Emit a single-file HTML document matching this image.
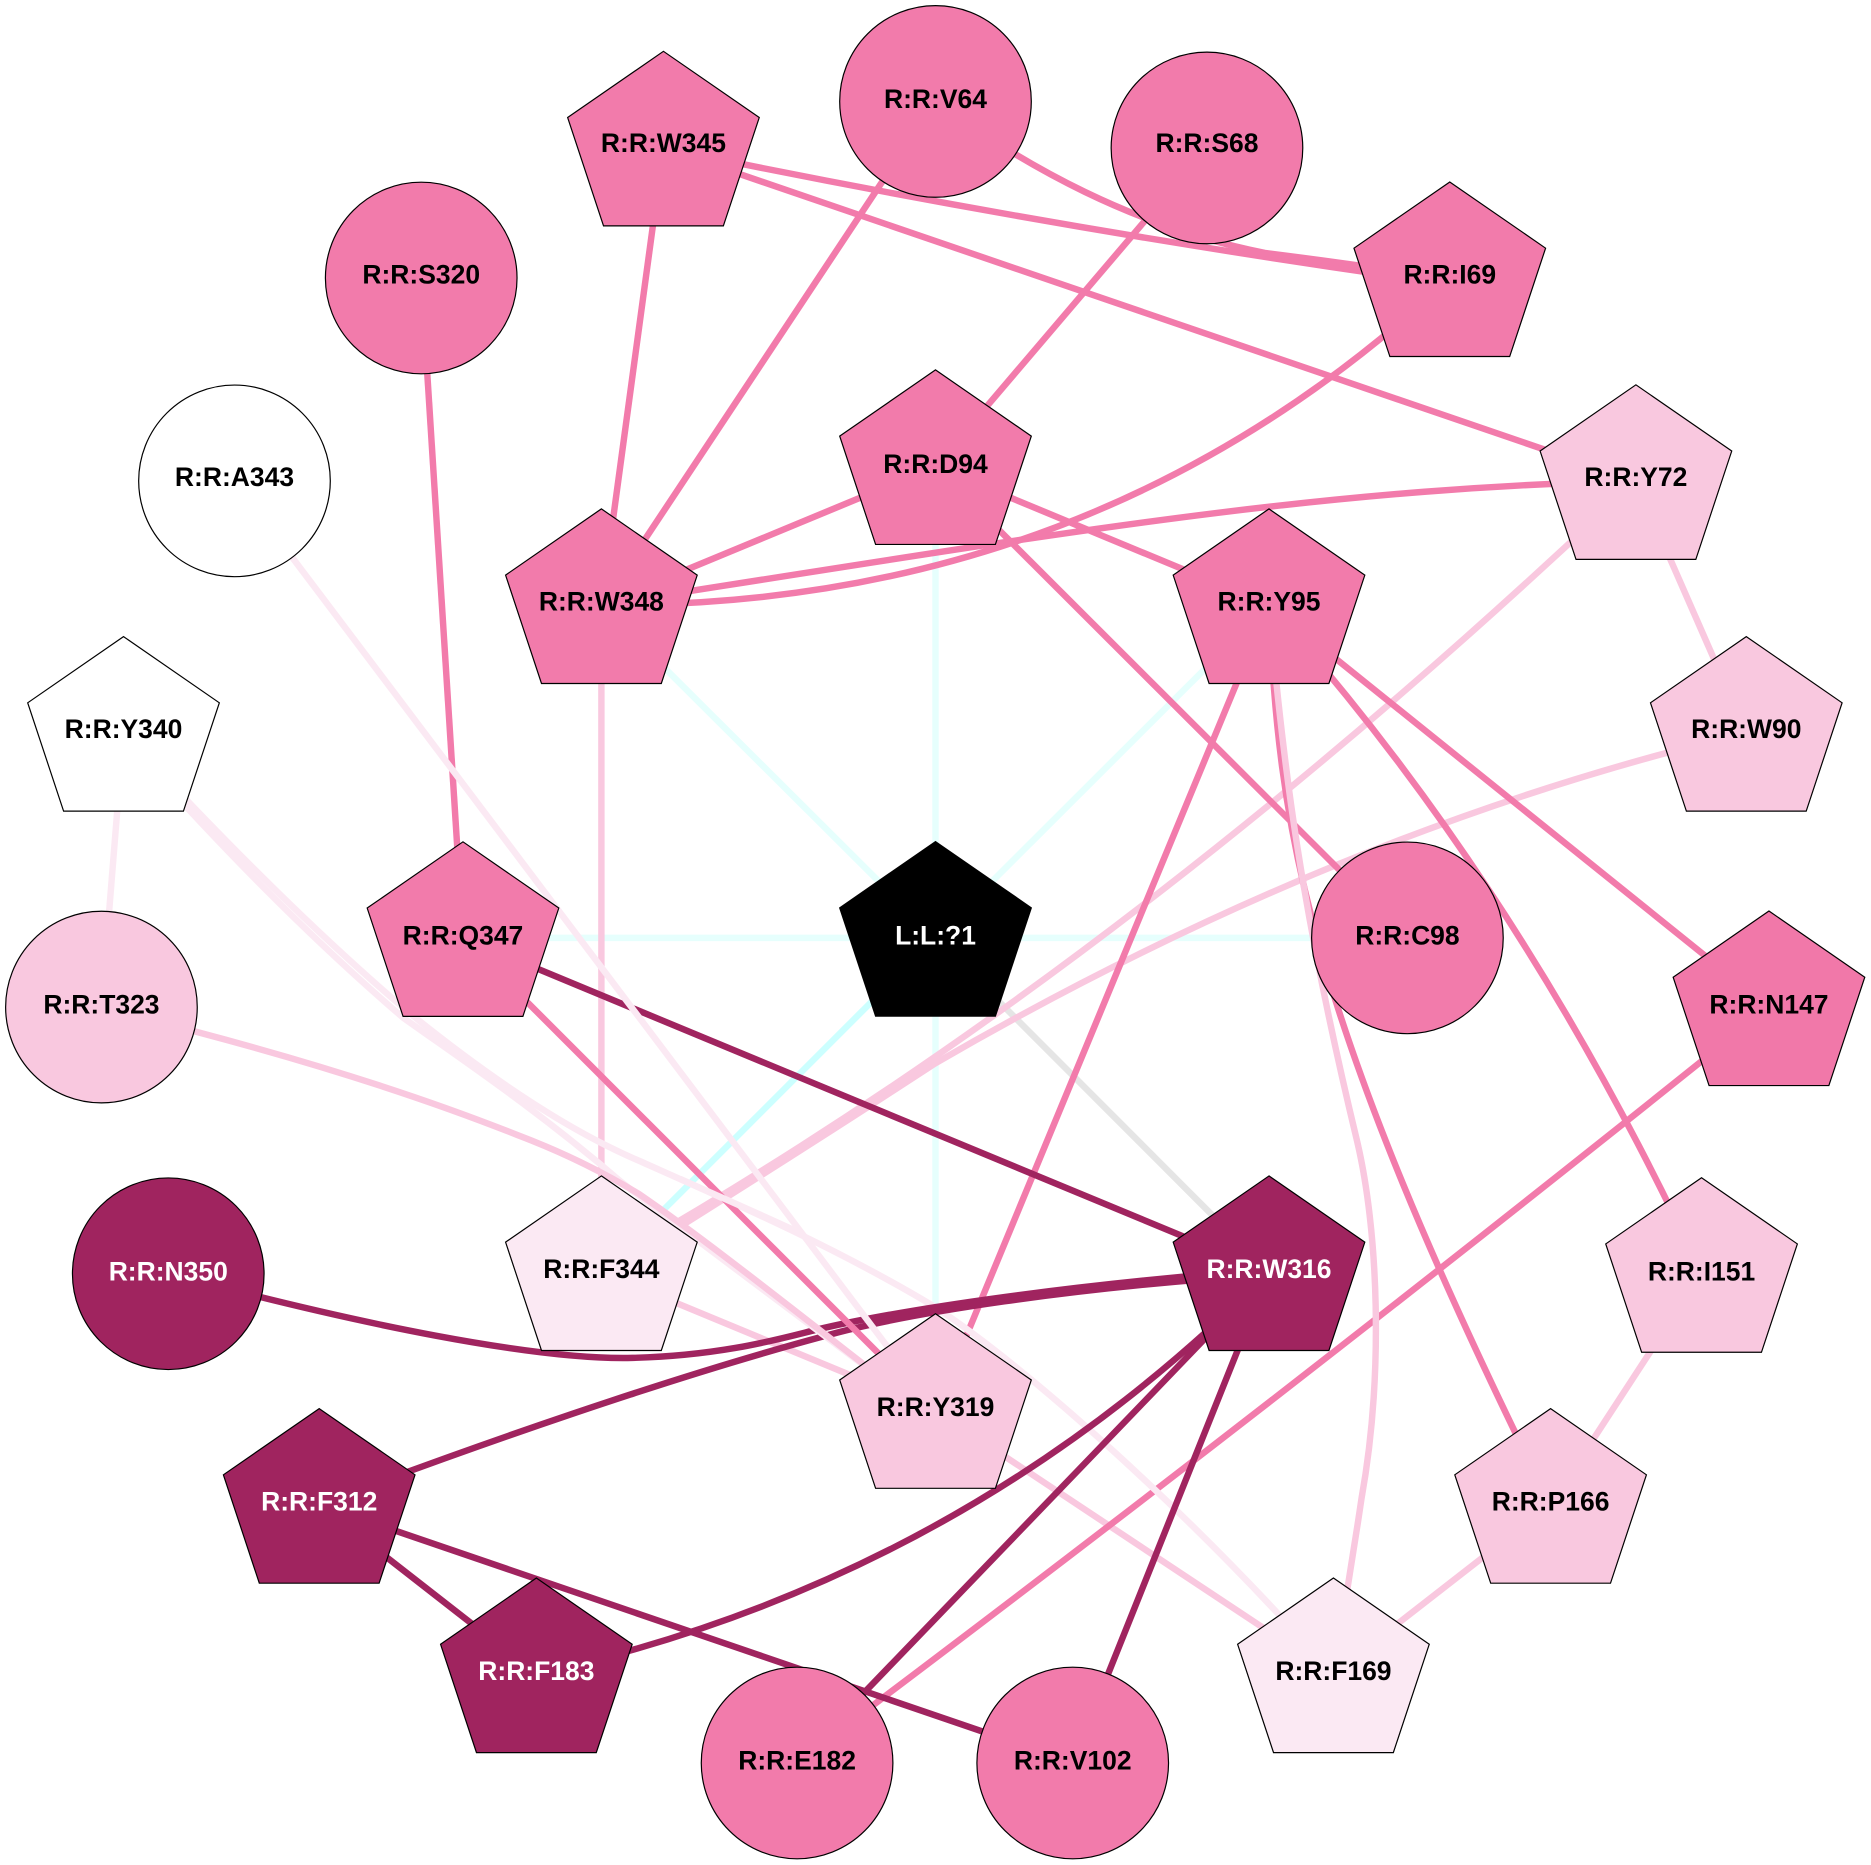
<!DOCTYPE html>
<html><head><meta charset="utf-8"><style>
html,body{margin:0;padding:0;background:#fff}
svg{display:block}
text{font-family:"Liberation Sans",Arial,sans-serif;font-weight:bold;font-size:22.2px;text-anchor:middle}
.e{fill:none;stroke-width:5.4}
.p{stroke:#f27bab}.d{stroke:#a0245f}.l{stroke:#f9c8df}.v{stroke:#fbe9f3}
.c1{stroke:#e6fffd}.c2{stroke:#ccffff}.g{stroke:#e5e5e5}
.n{stroke:#000;stroke-width:1}
</style></head><body>
<svg xmlns="http://www.w3.org/2000/svg" width="1871" height="1865" viewBox="0 0 1568 1563">
<rect width="1568" height="1563" fill="#fff"/>
<g class="edges">
<path class="e c1" d="M784 786L504 507"/>
<path class="e c1" d="M784 786L1063.5 507"/>
<path class="e c1" d="M784 786L784 391"/>
<path class="e c1" d="M784 786L784 1182"/>
<path class="e c1" d="M784 786L388 786"/>
<path class="e c1" d="M784 786L1179.5 786"/>
<path class="e c2" d="M784 786L504 1066"/>
<path class="e g" d="M784 786L1063.5 1066"/>
<path class="e v" d="M103.5 614L85 844"/>
<path class="e l" d="M1371 403L1463.5 614"/>
<path class="e l" d="M504 507L504 1066"/>
<path class="e l" d="M504 1066L784 1182"/>
<path class="e l" d="M784 1182L1117 1403"/>
<path class="e l" d="M1299.5 1261L1117 1403"/>
<path class="e l" d="M1426 1067L1299.5 1261"/>
<path class="e l" d="M1371 403Q930 822 502 1062"/>
<path class="e l" d="M1463.5 614Q1122 695 784 891Q660 972 506 1068"/>
<path class="e p" d="M556 124Q883 192 1215 238"/>
<path class="e p" d="M784 85C860 140 950 190 1060 212Q1140 222 1215 234"/>
<path class="e p" d="M556 124L1371 403"/>
<path class="e p" d="M556 124L504 507"/>
<path class="e p" d="M784 85L504 507"/>
<path class="e p" d="M1011.5 124L784 391"/>
<path class="e p" d="M1215 233Q920 510 504 507"/>
<path class="e p" d="M1371 403C1100 410 900 445 504 507"/>
<path class="e p" d="M784 391L504 507"/>
<path class="e p" d="M784 391L1063.5 507"/>
<path class="e p" d="M784 391L1179.5 786"/>
<path class="e p" d="M353 233L388 786"/>
<path class="e p" d="M1063.5 507L784 1182"/>
<path class="e p" d="M1063.5 507C1072 690 1090 840 1299.5 1261"/>
<path class="e p" d="M1063.5 507Q1275.5 743 1426 1067"/>
<path class="e p" d="M1063.5 507L1482.5 844"/>
<path class="e p" d="M1482.5 844Q1080 1168 668 1477"/>
<path class="e l" d="M1063.5 507C1075 640 1090 760 1137 955C1155 1030 1160 1150 1141 1256Q1130 1330 1117 1403"/>
<path class="e d" d="M388 786L1063.5 1066"/>
<path class="e v" d="M103.5 614Q235 757 342 848C400 895 470 945 536 973C610 1006 700 1045 783 1095C860 1145 1000 1270 1117 1403"/>
<path class="e d" d="M141 1067C300 1110 450 1140 530 1138C610 1136 660 1120 690 1113C760 1097 900 1076 1063.5 1064"/>
<path class="e d" d="M267.5 1261C400 1211 560 1155 690 1120C760 1100 900 1079 1063.5 1068"/>
<path class="e d" d="M1063.5 1066Q806.5 1325 449.5 1403"/>
<path class="e d" d="M1063.5 1066L668 1477"/>
<path class="e d" d="M1063.5 1066L899 1477"/>
<path class="e d" d="M267.5 1261L449.5 1403"/>
<path class="e d" d="M267.5 1261L899 1477"/>
<path class="e p" d="M388 786L784 1182"/>
<path class="e v" d="M570 988C610 1006 640 1019 670 1033"/>
<path class="e v" d="M103.5 618Q226 757 338 853C390 890 450 930 520 990C570 1030 680 1110 784 1190"/>
<path class="e l" d="M85 844L165.5 865C260 890 350 918 433 951C470 965 505 982 536 1001C600 1045 680 1110 784 1190"/>
<path class="e v" d="M196.5 403L784 1182"/>
</g>
<g class="nodes">
<circle class="n" cx="784" cy="85" r="80.3" fill="#f27bab"/><text x="784" y="90.5">R:R:V64</text>
<polygon class="n" transform="translate(556,124)" points="0,-81 80.3,-25.5 50.2,65.3 -50.2,65.3 -80.3,-25.5" fill="#f27bab"/><text x="556" y="127.5">R:R:W345</text>
<circle class="n" cx="1011.5" cy="124" r="80.3" fill="#f27bab"/><text x="1011.5" y="127.5">R:R:S68</text>
<circle class="n" cx="353" cy="233" r="80.3" fill="#f27bab"/><text x="353" y="237.5">R:R:S320</text>
<polygon class="n" transform="translate(1215,233.5)" points="0,-81 80.3,-25.5 50.2,65.3 -50.2,65.3 -80.3,-25.5" fill="#f27bab"/><text x="1215" y="237.5">R:R:I69</text>
<circle class="n" cx="196.5" cy="403" r="80.3" fill="#fff"/><text x="196.5" y="407.5">R:R:A343</text>
<polygon class="n" transform="translate(1371,403.5)" points="0,-81 80.3,-25.5 50.2,65.3 -50.2,65.3 -80.3,-25.5" fill="#f9c8df"/><text x="1371" y="407.5">R:R:Y72</text>
<polygon class="n" transform="translate(784,391)" points="0,-81 80.3,-25.5 50.2,65.3 -50.2,65.3 -80.3,-25.5" fill="#f27bab"/><text x="784" y="396.5">R:R:D94</text>
<polygon class="n" transform="translate(504,507.5)" points="0,-81 80.3,-25.5 50.2,65.3 -50.2,65.3 -80.3,-25.5" fill="#f27bab"/><text x="504" y="511.5">R:R:W348</text>
<polygon class="n" transform="translate(1063.5,507.5)" points="0,-81 80.3,-25.5 50.2,65.3 -50.2,65.3 -80.3,-25.5" fill="#f27bab"/><text x="1063.5" y="511.5">R:R:Y95</text>
<polygon class="n" transform="translate(103.5,614.5)" points="0,-81 80.3,-25.5 50.2,65.3 -50.2,65.3 -80.3,-25.5" fill="#fff"/><text x="103.5" y="618.5">R:R:Y340</text>
<polygon class="n" transform="translate(1463.5,614.5)" points="0,-81 80.3,-25.5 50.2,65.3 -50.2,65.3 -80.3,-25.5" fill="#f9c8df"/><text x="1463.5" y="618.5">R:R:W90</text>
<polygon class="n" transform="translate(388,786.5)" points="0,-81 80.3,-25.5 50.2,65.3 -50.2,65.3 -80.3,-25.5" fill="#f27bab"/><text x="388" y="791.5">R:R:Q347</text>
<polygon class="n" transform="translate(784,786.3)" points="0,-81 80.3,-25.5 50.2,65.3 -50.2,65.3 -80.3,-25.5" fill="#000"/><text x="784" y="791.5" fill="#fff">L:L:?1</text>
<circle class="n" cx="1179.5" cy="786" r="80.3" fill="#f27bab"/><text x="1179.5" y="791.5">R:R:C98</text>
<polygon class="n" transform="translate(1482.5,844.5)" points="0,-81 80.3,-25.5 50.2,65.3 -50.2,65.3 -80.3,-25.5" fill="#f178a9"/><text x="1482.5" y="849.5">R:R:N147</text>
<circle class="n" cx="85" cy="844" r="80.3" fill="#f9c8df"/><text x="85" y="849.5">R:R:T323</text>
<circle class="n" cx="141" cy="1067.5" r="80.3" fill="#a0245f"/><text x="141" y="1073" fill="#fff">R:R:N350</text>
<polygon class="n" transform="translate(504,1066.5)" points="0,-81 80.3,-25.5 50.2,65.3 -50.2,65.3 -80.3,-25.5" fill="#fbe9f3"/><text x="504" y="1071">R:R:F344</text>
<polygon class="n" transform="translate(1063.5,1066.5)" points="0,-81 80.3,-25.5 50.2,65.3 -50.2,65.3 -80.3,-25.5" fill="#a0245f"/><text x="1063.5" y="1071" fill="#fff">R:R:W316</text>
<polygon class="n" transform="translate(1426,1068)" points="0,-81 80.3,-25.5 50.2,65.3 -50.2,65.3 -80.3,-25.5" fill="#f9c8df"/><text x="1426" y="1073">R:R:I151</text>
<polygon class="n" transform="translate(784,1182)" points="0,-81 80.3,-25.5 50.2,65.3 -50.2,65.3 -80.3,-25.5" fill="#f9c8df"/><text x="784" y="1186.5">R:R:Y319</text>
<polygon class="n" transform="translate(267.5,1261.5)" points="0,-81 80.3,-25.5 50.2,65.3 -50.2,65.3 -80.3,-25.5" fill="#a0245f"/><text x="267.5" y="1266" fill="#fff">R:R:F312</text>
<polygon class="n" transform="translate(1299.5,1261.5)" points="0,-81 80.3,-25.5 50.2,65.3 -50.2,65.3 -80.3,-25.5" fill="#f9c8df"/><text x="1299.5" y="1266">R:R:P166</text>
<polygon class="n" transform="translate(449.5,1403.5)" points="0,-81 80.3,-25.5 50.2,65.3 -50.2,65.3 -80.3,-25.5" fill="#a0245f"/><text x="449.5" y="1408" fill="#fff">R:R:F183</text>
<polygon class="n" transform="translate(1117.5,1403.5)" points="0,-81 80.3,-25.5 50.2,65.3 -50.2,65.3 -80.3,-25.5" fill="#fbe9f3"/><text x="1117.5" y="1408">R:R:F169</text>
<circle class="n" cx="668" cy="1477.5" r="80.3" fill="#f27bab"/><text x="668" y="1483">R:R:E182</text>
<circle class="n" cx="899" cy="1477.5" r="80.3" fill="#f27bab"/><text x="899" y="1483">R:R:V102</text>
</g>
</svg>
</body></html>
